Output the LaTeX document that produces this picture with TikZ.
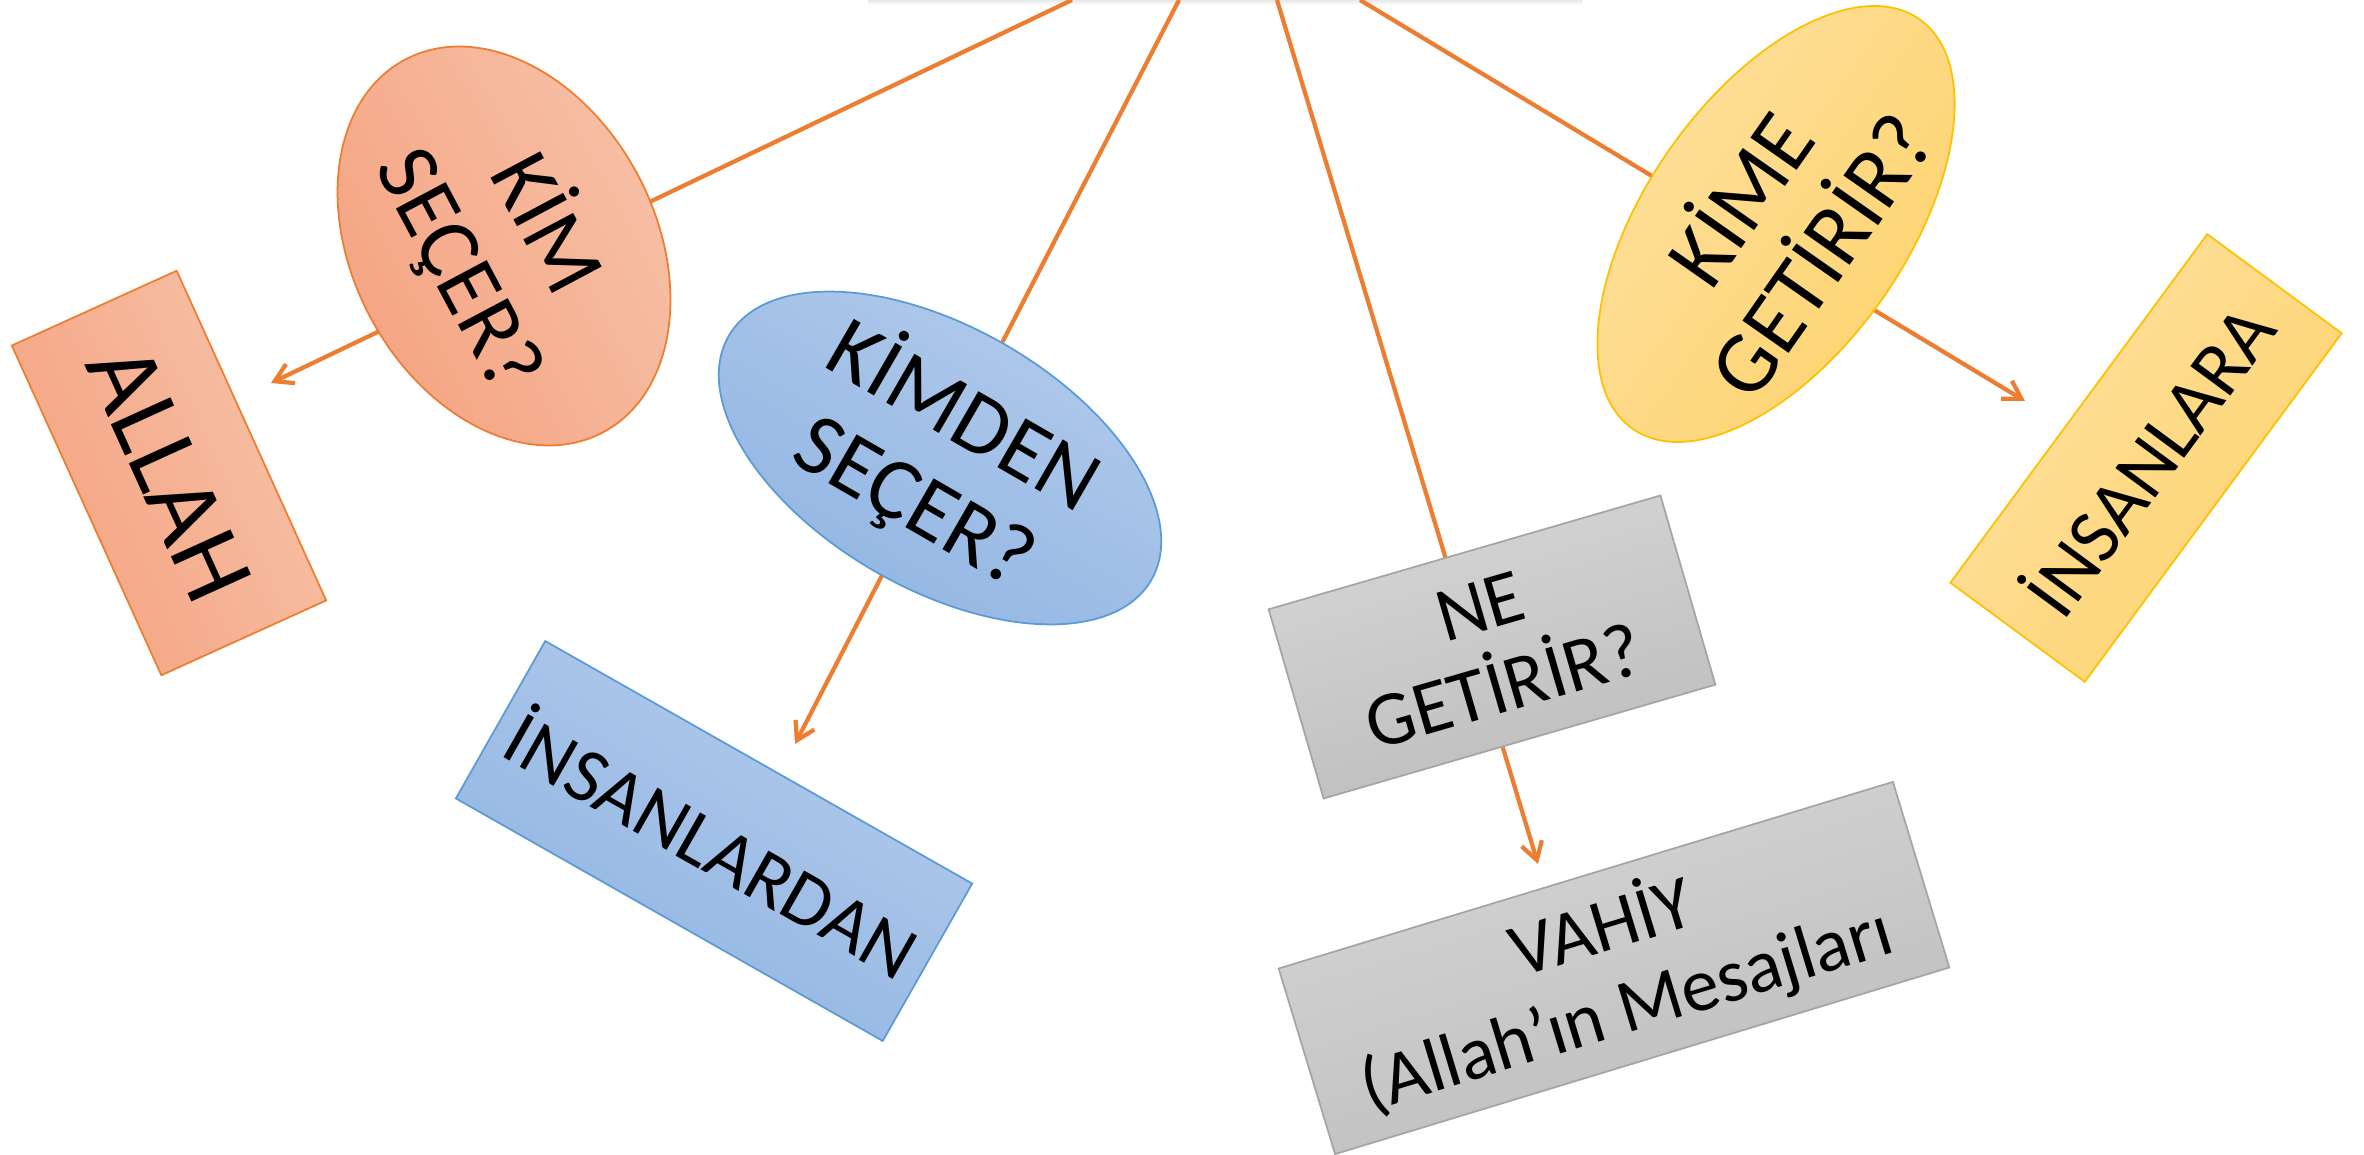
\documentclass[tikz,border=0pt]{standalone}
\usepackage{fontspec}
\setmainfont{Carlito}
\usepackage{tikz}
\usetikzlibrary{shapes.geometric, arrows.meta}
\definecolor{lineor}{RGB}{237,125,49}
\definecolor{salmonL}{RGB}{247,194,168}
\definecolor{salmonD}{RGB}{244,162,128}
\definecolor{blueL}{RGB}{179,203,235}
\definecolor{blueD}{RGB}{143,180,226}
\definecolor{blueB}{RGB}{91,155,213}
\definecolor{grayL}{RGB}{214,214,214}
\definecolor{grayD}{RGB}{188,188,188}
\definecolor{grayB}{RGB}{165,165,165}
\definecolor{yelL}{RGB}{254,225,160}
\definecolor{yelD}{RGB}{254,211,110}
\definecolor{yelB}{RGB}{255,192,0}
\tikzstyle{arrow} = [line width=1.2pt, draw=lineor, -{Straight Barb[length=5pt,width=6pt]}]
\tikzstyle{oval} = [ellipse, inner sep=0pt, align=center, line width=0.5pt]
\tikzstyle{card} = [rectangle, inner sep=0pt, align=center, line width=0.5pt]
\tikzstyle{salmon} = [draw=lineor, top color=salmonL, bottom color=salmonD]
\tikzstyle{blue} = [draw=blueB, top color=blueL, bottom color=blueD]
\tikzstyle{gray} = [draw=grayB, top color=grayL, bottom color=grayD]
\tikzstyle{yellow} = [draw=yelB, top color=yelL, bottom color=yelD]
\tikzset{turn/.style={rotate=#1, shading angle=#1}}

\begin{document}
\begin{tikzpicture}
	\useasboundingbox (0,0) rectangle (23.64,11.54);
	% edge of the box above the picture
	\fill[top color=black!9, bottom color=white] (8.68,11.49) rectangle (15.82,11.54);
	
	% lines from the top
	\coordinate (t1) at (10.72,11.54);
	\coordinate (t2) at (11.79,11.54);
	\coordinate (t3) at (12.77,11.54);
	\coordinate (t4) at (13.60,11.54);
	\coordinate (a1) at (2.71,7.71);
	\coordinate (a2) at (7.95,4.10);
	\coordinate (a3) at (15.38,2.90);
	\coordinate (a4) at (20.25,7.53);
	\draw[arrow] (t1) -- (a1);
	\draw[arrow] (t2) -- (a2);
	\draw[arrow] (t3) -- (a3);
	\draw[arrow] (t4) -- (a4);
	
	% questions
	\node[oval, salmon, minimum width=4.22cm, minimum height=3.03cm, turn=-62,
		font=\fontsize{25}{28}\selectfont] (kim) at (5.04,9.08) {KİM\\SEÇER?};
	\node[oval, blue, minimum width=4.88cm, minimum height=2.61cm, turn=-30,
		font=\fontsize{25}{28}\selectfont] (kimden) at (9.40,6.96) {KİMDEN\\SEÇER?};
	\node[card, gray, minimum width=4.08cm, minimum height=1.97cm, turn=16.2,
		font=\fontsize{22}{24}\selectfont] (ne) at (14.92,5.07) {NE\\GETİRİR?};
	\node[oval, yellow, minimum width=5.00cm, minimum height=2.60cm, turn=55,
		font=\fontsize{25}{28}\selectfont] (kime) at (17.76,9.30) {KİME\\GETİRİR?};
	
	% answers
	\node[card, salmon, minimum width=3.62cm, minimum height=1.81cm, turn=-65.6,
		font=\fontsize{29}{30}\selectfont] (allah) at (1.69,6.81) {ALLAH};
	\node[card, blue, minimum width=4.91cm, minimum height=1.81cm, turn=-29.6,
		font=\fontsize{22}{24}\selectfont] (insanlardan) at (7.14,3.13) {İNSANLARDAN};
	\node[card, gray, minimum width=6.42cm, minimum height=1.94cm, turn=16.9,
		font=\fontsize{21.5}{24}\selectfont] (vahiy) at (16.14,1.86) {VAHİY\\(Allah’ın Mesajları};
	\node[card, yellow, minimum width=4.33cm, minimum height=1.67cm, turn=53.6,
		font=\fontsize{22}{24}\selectfont] (insanlara) at (21.46,6.96) {İNSANLARA};
\end{tikzpicture}
\end{document}
